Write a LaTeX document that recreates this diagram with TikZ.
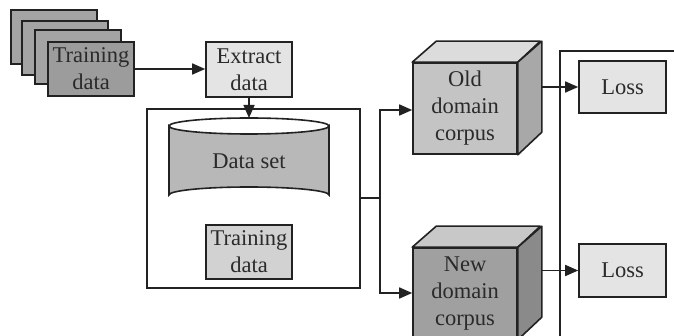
\documentclass[tikz,border=0pt]{standalone}
\usepackage{fontspec}
\setmainfont{Liberation Serif}
\usetikzlibrary{arrows.meta}
\definecolor{ln}{HTML}{222222}
\definecolor{txt}{HTML}{2A2A2A}
\definecolor{sheet}{HTML}{A4A4A4}
\definecolor{sheetfront}{HTML}{9C9C9C}
\definecolor{lightbox}{HTML}{E4E4E4}
\definecolor{midbox}{HTML}{D2D2D2}
\definecolor{cyl}{HTML}{B8B8B8}
\definecolor{oldfront}{HTML}{C4C4C4}
\definecolor{oldtop}{HTML}{DCDCDC}
\definecolor{oldside}{HTML}{A8A8A8}
\definecolor{newfront}{HTML}{A0A0A0}
\definecolor{newtop}{HTML}{C8C8C8}
\definecolor{newside}{HTML}{8A8A8A}
\tikzset{
  x=1pt, y=-1pt,
  every node/.style={font=\fontsize{22.5}{27}\selectfont, text=txt, align=center, inner sep=0pt},
  box/.style={draw=ln, line width=1.6pt, minimum width=86pt, minimum height=54pt},
  cubefront/.style={draw=ln, line width=1.6pt, minimum width=104pt, minimum height=91pt},
  conn/.style={draw=ln, line width=1.6pt},
  arr/.style={conn, -{Triangle[length=13pt,width=11pt]}},
}
\begin{document}
\begin{tikzpicture}
\useasboundingbox (0,0) rectangle (674,336);
\clip (0,0) rectangle (674,336);
% stacked training data
\node[box, fill=sheet] (s1) at (54,37) {};
\node[box, fill=sheet] (s2) at (65,48) {};
\node[box, fill=sheet] (s3) at (78,57) {};
\node[box, fill=sheetfront] (train) at (91,69) {Training\\data};
% extract data
\node[box, fill=lightbox, minimum height=55pt] (extract) at (249,69.5) {Extract\\data};
% big box
\node[draw=ln, line width=1.6pt, minimum width=213pt, minimum height=179pt] (big) at (253.5,198.5) {};
% cylinder
\filldraw[fill=cyl, draw=ln, line width=1.6pt]
  (169,126) -- (169,195) arc[start angle=180, end angle=360, x radius=80, y radius=8]
  -- (329,126) arc[start angle=0, end angle=180, x radius=80, y radius=8] -- cycle;
\draw[draw=ln, line width=1.6pt] (169,126) arc[start angle=180, end angle=360, x radius=80, y radius=8];
\coordinate (cyltop) at (249,118);
\node (dataset) at (249,161) {Data set};
% inner training data
\node[box, fill=midbox] (train2) at (249,252) {Training\\data};
% cubes
\node[cubefront, fill=oldfront] (old) at (465,108.5) {Old\\domain\\corpus};
\filldraw[fill=oldtop, draw=ln, line width=1.6pt, line join=round]
  (old.north west) -- ++(24,-21) -- ++(104,0) -- (old.north east) -- cycle;
\filldraw[fill=oldside, draw=ln, line width=1.6pt, line join=round]
  (old.north east) -- ++(24,-21) -- ++(0,91) -- (old.south east) -- cycle;
\node[cubefront, fill=newfront] (new) at (465,293.5) {New\\domain\\corpus};
\filldraw[fill=newtop, draw=ln, line width=1.6pt, line join=round]
  (new.north west) -- ++(24,-21) -- ++(104,0) -- (new.north east) -- cycle;
\filldraw[fill=newside, draw=ln, line width=1.6pt, line join=round]
  (new.north east) -- ++(24,-21) -- ++(0,91) -- (new.south east) -- cycle;
% loss boxes
\node[box, fill=lightbox, minimum height=52pt, minimum width=87pt] (loss1) at (622.5,87) {Loss};
\node[box, fill=lightbox, minimum height=53pt, minimum width=87pt] (loss2) at (622.5,270.5) {Loss};
% right open frame
\coordinate (fr1) at (690,51);
\coordinate (fr2) at (560,51);
\coordinate (fr3) at (560,345);
\draw[conn] (fr1) -- (fr2) -- (fr3);
% connectors
\draw[arr] (train.east) -- (extract.west |- train.east);
\draw[arr] (extract.south) -- (cyltop);
\coordinate (split) at (380,198);
\coordinate (splitTop) at (380,110);
\coordinate (splitBot) at (380,293);
\draw[conn] (big.east |- split) -- (split);
\draw[arr] (split) -- (splitTop) -- (old.west |- splitTop);
\draw[arr] (split) -- (splitBot) -- (new.west |- splitBot);
\draw[arr] (541,87) -- (loss1.west);
\draw[arr] (541,270.5) -- (loss2.west);
\end{tikzpicture}
\end{document}
